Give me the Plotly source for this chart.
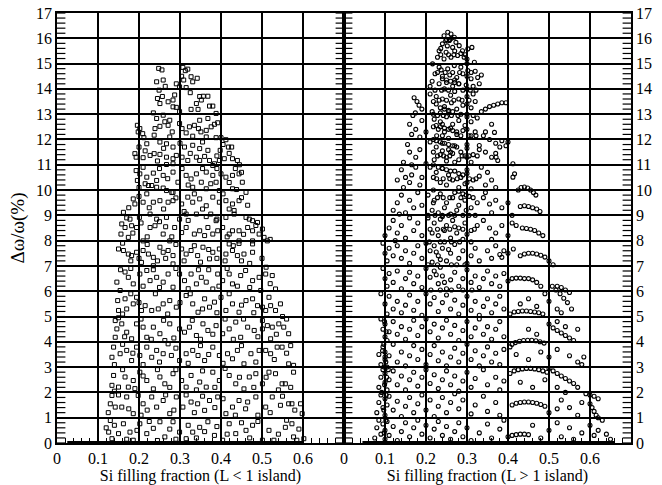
import plotly.graph_objects as go

# ---------------- Left panel (L < 1 island) : points by band of y ----------------
L_top = [(0.248,14.81),(0.256,14.75),(0.307,14.85),(0.313,14.72),(0.319,14.78),(0.304,14.5),(0.309,14.35),
         (0.327,14.48),(0.331,14.28),(0.342,14.42),(0.243,14.28),(0.259,14.35),(0.264,14.1),(0.249,13.95),
         (0.291,14.2),(0.299,14.08),(0.315,14.05),(0.325,13.85)]
L_13 = [(0.245,13.62),(0.257,13.7),(0.251,13.42),(0.271,13.49),(0.283,13.56),(0.287,13.76),(0.283,13.29),
        (0.291,13.27),(0.299,13.1),(0.348,13.7),(0.357,13.71),(0.368,13.71),(0.352,13.56),(0.34,13.42),
        (0.327,13.19),(0.344,13.19),(0.372,13.32),(0.38,13.32),(0.388,13.03),(0.235,13.05),(0.243,12.83),
        (0.259,12.96),(0.275,12.76),(0.263,12.7)]
L_12 = [(0.196,12.56),(0.198,12.3),(0.202,12.43),(0.209,12.23),(0.212,12.07),(0.239,12.43),(0.251,12.52),
        (0.237,12.17),(0.271,12.56),(0.281,12.3),(0.275,12.1),(0.299,12.63),(0.305,12.43),(0.315,12.26),
        (0.323,12.5),(0.335,12.56),(0.345,12.43),(0.351,12.3),(0.364,12.36),(0.376,12.5),(0.384,12.6),
        (0.392,12.66),(0.348,12.76),(0.368,12.83),(0.331,12.13),(0.364,12.1),(0.388,12.07),(0.4,12.07),
        (0.412,11.99),(0.219,11.83),(0.251,11.9),(0.267,11.83),(0.283,11.7),(0.311,11.7),(0.331,11.77),
        (0.348,11.64),(0.368,11.57),(0.398,11.57),(0.418,11.7),(0.426,11.7)]
L_11 = [(0.19,11.44),(0.193,11.3),(0.21,11.28),(0.227,11.37),(0.237,11.44),(0.251,11.41),(0.267,11.3),
        (0.283,11.24),(0.291,11.37),(0.305,11.3),(0.319,11.17),(0.34,11.3),(0.348,11.17),(0.36,11.33),
        (0.372,11.17),(0.384,11.04),(0.396,11.17),(0.408,11.24),(0.428,11.24),(0.44,11.17),(0.38,10.97),
        (0.267,11.01),(0.283,11.04),(0.2,11.7),(0.215,11.55),(0.245,11.15),(0.26,11.65),(0.3,11.85),
        (0.325,11.45),(0.355,11.9),(0.39,11.35),(0.405,11.8),(0.42,11.45),(0.445,11.0)]
L_10 = [(0.193,10.77),(0.196,10.38),(0.202,10.64),(0.219,10.51),(0.215,10.25),(0.235,10.67),(0.243,10.38),
        (0.259,10.58),(0.283,10.71),(0.295,10.31),(0.315,10.58),(0.327,10.44),(0.34,10.64),(0.352,10.31),
        (0.364,10.71),(0.38,10.58),(0.388,10.31),(0.4,10.64),(0.412,10.51),(0.428,10.58),(0.444,10.64),
        (0.452,10.31),(0.223,10.18),(0.231,10.18),(0.243,10.11),(0.259,10.08),(0.267,9.98),(0.283,9.91),
        (0.331,10.11),(0.364,10.05),(0.396,9.98),(0.428,10.05),(0.438,10.02),(0.461,9.91),(0.2,10.1),
        (0.21,10.9),(0.25,10.85),(0.27,10.45),(0.305,10.85),(0.32,10.2),(0.355,10.85),(0.375,10.25),
        (0.39,10.85),(0.42,10.3),(0.435,10.85),(0.45,10.7)]
L_9 = [(0.186,9.65),(0.19,9.45),(0.21,9.52),(0.219,9.85),(0.235,9.52),(0.251,9.58),(0.271,9.52),(0.283,9.58),
       (0.29,9.69),(0.304,9.45),(0.319,9.72),(0.331,9.52),(0.348,9.65),(0.364,9.38),(0.38,9.72),(0.396,9.52),
       (0.412,9.58),(0.428,9.45),(0.444,9.58),(0.432,9.19),(0.162,9.12),(0.178,8.85),(0.201,8.92),(0.227,9.05),
       (0.243,8.85),(0.267,8.92),(0.299,8.85),(0.315,9.05),(0.34,9.05),(0.364,8.95),(0.388,8.79),(0.412,8.92),
       (0.432,9.05),(0.461,8.92),(0.469,8.85),(0.477,8.79),(0.489,8.72),(0.175,9.3),(0.2,9.75),(0.225,9.3),
       (0.26,9.25),(0.28,9.9),(0.31,9.15),(0.335,9.85),(0.355,9.25),(0.375,9.05),(0.405,9.85),(0.42,9.25),
       (0.45,9.7),(0.465,9.4)]
L_8 = [(0.158,8.66),(0.166,8.52),(0.182,8.59),(0.194,8.52),(0.156,8.26),(0.174,8.13),(0.21,7.99),(0.227,8.52),
       (0.239,8.59),(0.259,8.26),(0.275,7.99),(0.287,8.52),(0.304,8.32),(0.315,8.52),(0.335,8.26),(0.348,8.39),
       (0.368,8.52),(0.38,8.26),(0.392,8.39),(0.404,8.52),(0.42,8.26),(0.428,8.39),(0.444,8.39),(0.465,8.52),
       (0.477,8.39),(0.493,8.26),(0.505,8.13),(0.501,8.46),(0.513,7.99),(0.444,7.99),(0.477,7.99),
       (0.17,8.9),(0.185,8.3),(0.205,8.7),(0.22,8.15),(0.25,8.75),(0.265,8.55),(0.28,8.15),(0.32,8.8),
       (0.36,8.2),(0.39,8.85),(0.415,8.15),(0.455,8.25),(0.485,8.6),(0.52,8.05)]
L_7 = [(0.15,7.67),(0.162,7.61),(0.174,7.47),(0.182,7.41),(0.194,7.54),(0.21,7.61),(0.223,7.47),(0.235,7.34),
       (0.251,7.74),(0.259,7.54),(0.271,7.61),(0.283,7.41),(0.304,7.67),(0.315,7.47),(0.327,7.61),(0.343,7.41),
       (0.356,7.74),(0.372,7.28),(0.38,7.54),(0.396,7.67),(0.412,7.47),(0.428,7.61),(0.44,7.41),(0.456,7.47),
       (0.477,7.54),(0.477,7.87),(0.444,7.89),(0.42,7.87),(0.206,7.14),(0.235,7.01),(0.283,7.08),
       (0.16,7.9),(0.18,7.2),(0.2,7.3),(0.22,7.85),(0.245,7.2),(0.265,7.3),(0.29,7.85),(0.31,7.2),(0.335,7.8),
       (0.35,7.15),(0.37,7.65),(0.39,7.3),(0.41,7.2),(0.43,7.8),(0.45,7.2),(0.47,7.1),(0.5,7.3),(0.51,6.95)]
L_6 = [(0.146,6.36),(0.154,6.03),(0.166,6.76),(0.174,6.55),(0.186,6.29),(0.202,6.68),(0.219,6.82),(0.227,6.42),
       (0.243,6.55),(0.259,6.36),(0.271,6.68),(0.283,6.16),(0.299,6.68),(0.311,6.42),(0.327,6.68),(0.34,6.29),
       (0.352,6.55),(0.364,6.36),(0.38,6.09),(0.392,6.68),(0.404,6.42),(0.42,6.68),(0.428,6.29),(0.448,6.62),
       (0.46,6.82),(0.477,6.42),(0.493,6.55),(0.509,6.68),(0.525,6.62),(0.533,6.09),(0.497,6.03),
       (0.155,6.85),(0.18,6.9),(0.21,6.2),(0.235,6.85),(0.25,6.15),(0.29,6.9),(0.32,6.1),(0.345,6.85),
       (0.37,6.85),(0.395,6.2),(0.415,6.9),(0.44,6.2),(0.47,6.15),(0.52,6.3)]
L_5 = [(0.148,5.63),(0.15,5.24),(0.166,5.7),(0.17,5.3),(0.186,5.5),(0.194,5.76),(0.206,5.24),(0.215,5.43),
       (0.231,5.24),(0.247,5.3),(0.259,5.5),(0.275,5.63),(0.291,5.37),(0.315,5.83),(0.331,5.5),(0.344,5.17),
       (0.36,5.7),(0.372,5.37),(0.384,5.57),(0.4,5.76),(0.412,5.24),(0.428,5.5),(0.444,5.17),(0.461,5.63),
       (0.477,5.7),(0.489,5.43),(0.501,5.37),(0.509,5.24),(0.521,5.43),(0.533,5.24),(0.517,5.76),
       (0.16,5.1),(0.18,5.9),(0.2,5.55),(0.24,5.9),(0.27,5.1),(0.3,5.55),(0.325,5.9),(0.355,5.3),(0.39,5.15),
       (0.42,5.9),(0.45,5.45),(0.48,5.15),(0.545,5.5),(0.55,5.0)]
L_4 = [(0.142,4.84),(0.146,4.51),(0.142,4.18),(0.158,4.71),(0.17,4.38),(0.182,4.12),(0.194,4.71),(0.21,4.58),
       (0.219,4.18),(0.235,4.58),(0.251,4.32),(0.263,4.05),(0.275,4.71),(0.299,4.51),(0.311,4.38),(0.323,4.58),
       (0.34,4.25),(0.356,4.71),(0.368,4.45),(0.388,4.64),(0.404,4.32),(0.42,4.51),(0.436,4.78),(0.448,4.18),
       (0.465,4.58),(0.481,4.45),(0.501,4.51),(0.513,4.64),(0.525,4.58),(0.541,4.71),(0.553,4.58),(0.565,4.32),
       (0.521,4.12),(0.501,4.84),(0.15,4.95),(0.165,4.2),(0.205,4.9),(0.23,4.1),(0.26,4.85),(0.285,4.15),
       (0.33,4.85),(0.35,4.1),(0.38,4.3),(0.41,4.9),(0.43,4.1),(0.455,4.9),(0.49,4.2),(0.535,4.3),(0.56,4.9)]
L_3 = [(0.138,3.79),(0.134,3.39),(0.154,3.53),(0.17,3.66),(0.182,3.26),(0.194,3.79),(0.202,3.46),(0.219,3.79),
       (0.231,3.39),(0.243,3.66),(0.259,3.53),(0.271,3.92),(0.279,3.46),(0.299,3.26),(0.315,3.53),(0.331,3.66),
       (0.344,3.46),(0.36,3.26),(0.38,3.79),(0.396,3.46),(0.416,3.53),(0.428,3.33),(0.44,3.66),(0.456,3.13),
       (0.473,3.53),(0.493,3.66),(0.509,3.66),(0.521,3.53),(0.537,3.79),(0.549,3.79),(0.565,3.13),(0.577,3.07),
       (0.14,3.1),(0.16,3.9),(0.185,3.55),(0.21,3.1),(0.25,3.2),(0.29,3.75),(0.32,3.15),(0.35,3.85),(0.37,3.5),
       (0.405,3.15),(0.45,3.85),(0.485,3.2),(0.53,3.3),(0.56,3.55),(0.57,3.85)]
L_2 = [(0.138,2.67),(0.134,2.28),(0.15,2.21),(0.166,2.61),(0.174,2.21),(0.186,2.47),(0.202,2.8),(0.219,2.47),
       (0.235,2.14),(0.251,2.61),(0.263,2.34),(0.283,2.74),(0.304,2.47),(0.315,2.21),(0.327,2.67),(0.348,2.41),
       (0.364,2.21),(0.38,2.8),(0.396,2.47),(0.42,2.67),(0.436,2.34),(0.456,2.14),(0.469,2.61),(0.485,2.74),
       (0.501,2.34),(0.517,2.8),(0.533,2.74),(0.549,2.34),(0.557,2.34),(0.577,2.8),
       (0.14,2.05),(0.16,2.9),(0.19,2.15),(0.21,2.65),(0.245,2.9),(0.275,2.2),(0.29,2.9),(0.34,2.1),
       (0.355,2.85),(0.385,2.2),(0.41,2.95),(0.445,2.6),(0.48,2.2),(0.51,2.6),(0.54,2.1),(0.57,2.2)]
L_1 = [(0.134,1.88),(0.13,1.55),(0.142,1.42),(0.158,1.42),(0.17,1.82),(0.186,1.16),(0.198,1.88),(0.21,1.55),
       (0.231,1.82),(0.243,1.42),(0.259,1.68),(0.275,1.16),(0.291,1.82),(0.307,1.42),(0.327,1.62),(0.343,1.55),
       (0.36,1.29),(0.372,1.68),(0.392,1.82),(0.412,1.16),(0.428,1.42),(0.444,1.68),(0.465,1.62),(0.485,1.82),
       (0.509,1.42),(0.525,1.82),(0.545,1.49),(0.565,1.55),(0.573,1.55),(0.594,1.55),(0.598,1.16),
       (0.125,1.2),(0.15,1.9),(0.175,1.35),(0.205,1.1),(0.22,1.3),(0.265,1.9),(0.285,1.3),(0.315,1.9),
       (0.335,1.2),(0.355,1.85),(0.385,1.4),(0.405,1.75),(0.435,1.1),(0.46,1.35),(0.49,1.1),(0.52,1.2),
       (0.55,1.85),(0.58,1.3)]
L_0 = [(0.13,0.89),(0.126,0.43),(0.134,0.17),(0.15,0.37),(0.162,0.76),(0.178,0.43),(0.186,0.11),(0.202,0.76),
       (0.219,0.37),(0.235,0.58),(0.251,0.84),(0.263,0.24),(0.283,0.84),(0.299,0.43),(0.315,0.17),(0.331,0.43),
       (0.348,0.62),(0.368,0.84),(0.384,0.3),(0.404,0.11),(0.42,0.76),(0.436,0.37),(0.461,0.5),(0.477,0.7),
       (0.501,0.11),(0.517,0.5),(0.529,0.11),(0.557,0.62),(0.573,0.76),(0.577,0.24),(0.585,0.11),(0.602,0.17),
       (0.12,0.6),(0.14,0.7),(0.17,0.15),(0.195,0.5),(0.225,0.85),(0.245,0.1),(0.275,0.55),(0.29,0.15),
       (0.32,0.7),(0.34,0.2),(0.36,0.45),(0.39,0.65),(0.415,0.35),(0.45,0.8),(0.47,0.2),(0.49,0.85),
       (0.54,0.35),(0.56,0.9),(0.59,0.55)]
L_zero_x = [0.025, 0.6]   # ends of the dense run of zero-gap points

# ---------------- Right panel (L > 1 island) ----------------
R_15 = [(0.253,16.24),(0.261,16.17),(0.269,16.04),(0.244,16.1),(0.257,15.91),(0.273,15.84),(0.24,15.78),
        (0.265,15.64),(0.281,15.71),(0.232,15.51),(0.249,15.45),(0.289,15.51),(0.302,15.58),(0.312,15.64),
        (0.228,15.25),(0.244,15.18),(0.261,15.25),(0.277,15.32),(0.293,15.25),(0.3,15.18),(0.318,15.05),
        (0.236,15.6),(0.252,15.7),(0.27,15.5),(0.285,15.4),(0.262,16.0),(0.248,15.9),
        (0.25,15.95),(0.258,15.95),(0.236,15.35),(0.255,15.35),(0.268,15.35),(0.296,15.35)]
R_14 = [(0.216,14.99),(0.232,14.86),(0.253,14.79),(0.269,14.92),(0.285,14.86),(0.302,14.72),(0.32,14.7),
        (0.326,14.45),(0.222,14.6),(0.24,14.5),(0.258,14.55),(0.275,14.45),(0.29,14.6),(0.31,14.4),(0.215,14.3),
        (0.232,14.2),(0.25,14.25),(0.265,14.1),(0.28,14.2),(0.298,14.15),(0.315,14.1),(0.33,14.2),(0.245,14.0),
        (0.27,14.35),(0.237,14.75),(0.21,14.1),(0.335,14.55),(0.24,14.4),(0.25,14.35),(0.26,14.3),(0.27,14.25),
        (0.28,14.2),(0.3,14.0),(0.3,14.5),(0.3,15.0),(0.228,14.65),(0.247,14.65),(0.265,14.65),(0.282,14.65),
        (0.31,14.65),(0.222,13.95),(0.238,13.95),(0.255,13.95),(0.29,13.95),(0.308,13.95),(0.322,13.95)]
R_13 = [(0.171,13.65),(0.178,13.5),(0.183,13.35),(0.19,13.2),(0.174,13.05),(0.168,12.95),(0.21,13.8),(0.225,13.7),
        (0.24,13.6),(0.26,13.75),(0.28,13.6),(0.3,13.7),(0.315,13.8),(0.225,13.4),(0.245,13.3),(0.262,13.45),
        (0.275,13.2),(0.29,13.35),(0.31,13.25),(0.32,13.5),(0.215,13.1),(0.235,13.05),(0.255,13.1),(0.3,13.0),
        (0.27,13.9),(0.335,13.1),(0.345,13.2),(0.355,13.3),(0.365,13.35),(0.375,13.4),(0.385,13.45),(0.395,13.45),
        (0.235,13.25),(0.245,13.2),(0.255,13.15),(0.265,13.1),(0.285,13.0),(0.3,13.4),(0.218,13.5),(0.218,13.0),
        (0.232,13.55),(0.25,13.55),(0.268,13.55),(0.288,13.55),(0.305,13.55),(0.228,12.95),(0.242,12.95),
        (0.262,12.95),(0.278,12.95),(0.315,12.95)]
R_12 = [(0.22,12.8),(0.235,12.7),(0.25,12.9),(0.265,12.6),(0.28,12.75),(0.295,12.55),(0.31,12.7),(0.325,12.85),
        (0.23,12.4),(0.245,12.3),(0.26,12.45),(0.275,12.2),(0.29,12.35),(0.305,12.15),(0.32,12.3),(0.255,12.05),
        (0.24,12.6),(0.3,12.9),(0.16,12.6),(0.175,12.4),(0.165,12.2),(0.185,12.1),(0.2,12.3),(0.19,12.75),
        (0.34,12.15),(0.355,12.0),(0.37,11.85),(0.385,11.95),(0.395,11.75),(0.4,11.9),(0.345,12.3),(0.36,12.6),
        (0.33,11.76),(0.367,12.28),(0.225,12.55),(0.235,12.5),(0.245,12.45),(0.255,12.4),(0.265,12.35),
        (0.275,12.3),(0.3,12.4),(0.218,12.0),(0.218,12.5),(0.226,12.15),(0.24,12.15),(0.285,12.15),
        (0.31,12.15),(0.322,12.15)]
R_11 = [(0.21,11.9),(0.225,11.7),(0.24,11.85),(0.255,11.6),(0.27,11.75),(0.285,11.5),(0.3,11.65),(0.315,11.4),
        (0.33,11.6),(0.235,11.4),(0.25,11.3),(0.265,11.45),(0.28,11.2),(0.295,11.35),(0.31,11.1),(0.22,11.2),
        (0.345,11.5),(0.36,11.3),(0.37,11.45),(0.38,11.7),(0.155,11.8),(0.16,11.5),(0.175,11.3),(0.185,11.6),
        (0.145,11.1),(0.2,11.05),(0.165,11.0),(0.371,11.3),(0.375,11.17),(0.412,11.04),(0.416,10.64),(0.412,10.51),
        (0.225,11.95),(0.235,11.9),(0.245,11.85),(0.255,11.8),(0.265,11.75),(0.275,11.7),(0.3,11.3),(0.3,11.8),
        (0.218,11.0),(0.218,11.5),(0.24,11.55),(0.26,11.5),(0.25,11.15),(0.27,11.1),(0.228,11.35),(0.243,11.35),
        (0.258,11.35),(0.288,11.35),(0.305,11.35),(0.325,11.35)]
R_10 = [(0.21,10.9),(0.225,10.7),(0.24,10.85),(0.255,10.6),(0.27,10.75),(0.285,10.5),(0.3,10.65),(0.315,10.4),
        (0.33,10.55),(0.235,10.3),(0.25,10.2),(0.265,10.4),(0.28,10.1),(0.295,10.25),(0.31,10.05),(0.345,10.2),
        (0.36,10.4),(0.35,10.7),(0.37,10.1),(0.335,10.9),(0.14,10.8),(0.15,10.5),(0.165,10.6),(0.16,10.3),
        (0.175,10.9),(0.185,10.2),(0.145,10.1),(0.19,10.5),(0.13,10.4),(0.425,10.0),(0.432,10.1),(0.44,10.12),
        (0.448,10.08),(0.455,10.0),(0.462,9.9),(0.468,9.8),(0.23,10.9),(0.24,10.85),(0.25,10.8),(0.26,10.75),
        (0.28,10.65),(0.29,10.6),(0.3,10.3),(0.3,10.8),(0.218,10.0),(0.218,10.5),(0.226,10.45),(0.242,10.45),
        (0.258,10.45),(0.276,10.45),(0.306,10.45),(0.322,10.45)]
R_9 = [(0.12,9.2),(0.13,9.5),(0.14,9.8),(0.15,9.1),(0.16,9.6),(0.17,9.3),(0.18,9.9),(0.19,9.4),(0.135,9.05),
       (0.205,9.8),(0.22,9.6),(0.235,9.85),(0.25,9.5),(0.265,9.7),(0.28,9.4),(0.295,9.6),(0.31,9.3),(0.325,9.5),
       (0.215,9.2),(0.23,9.1),(0.245,9.3),(0.26,9.05),(0.275,9.2),(0.29,9.0),(0.305,9.75),(0.34,9.7),(0.355,9.45),
       (0.37,9.6),(0.385,9.3),(0.36,9.1),(0.345,9.9),(0.43,9.35),(0.44,9.38),(0.45,9.35),(0.46,9.3),(0.47,9.25),
       (0.478,9.15),(0.41,9.0),(0.4,9.5),(0.27,9.9),(0.28,9.95),(0.29,9.85),(0.298,9.2),(0.298,9.8),(0.218,9.5),
       (0.228,9.7),(0.242,9.7),(0.258,9.7),(0.285,9.7),(0.315,9.7),(0.205,9.0),(0.222,9.0),(0.24,9.0),
       (0.255,9.0),(0.27,9.0),(0.305,9.0),(0.32,9.0)]
R_8 = [(0.1,8.2),(0.11,8.5),(0.12,8.8),(0.13,8.3),(0.14,8.6),(0.15,8.1),(0.16,8.9),(0.17,8.4),(0.18,8.7),
       (0.19,8.2),(0.125,8.0),(0.205,8.9),(0.22,8.7),(0.235,8.85),(0.25,8.6),(0.265,8.8),(0.28,8.5),(0.295,8.7),
       (0.31,8.4),(0.325,8.6),(0.215,8.3),(0.23,8.2),(0.245,8.4),(0.26,8.1),(0.275,8.3),(0.29,8.05),(0.34,8.8),
       (0.355,8.5),(0.37,8.3),(0.385,8.6),(0.4,8.2),(0.36,8.05),(0.435,8.5),(0.445,8.48),(0.455,8.45),
       (0.465,8.4),(0.475,8.3),(0.485,8.2),(0.41,8.7),(0.42,8.6),(0.24,8.95),(0.27,8.55),(0.3,8.25),
       (0.21,8.45),(0.228,8.45),(0.242,8.45),(0.258,8.45),(0.29,8.45),(0.318,8.45)]
R_7 = [(0.095,7.9),(0.1,7.5),(0.11,7.7),(0.105,7.2),(0.12,7.4),(0.13,7.8),(0.14,7.3),(0.15,7.6),(0.16,7.1),
       (0.17,7.5),(0.18,7.8),(0.19,7.3),(0.2,7.9),(0.21,7.6),(0.22,7.8),(0.23,7.4),(0.24,7.7),(0.25,7.2),
       (0.26,7.5),(0.27,7.85),(0.28,7.3),(0.29,7.6),(0.3,7.1),(0.31,7.4),(0.32,7.7),(0.33,7.2),(0.215,7.15),
       (0.245,7.95),(0.35,7.6),(0.36,7.3),(0.37,7.8),(0.38,7.45),(0.39,7.6),(0.43,7.4),(0.44,7.47),(0.45,7.5),
       (0.46,7.5),(0.47,7.47),(0.48,7.42),(0.49,7.35),(0.5,7.2),(0.51,7.05),(0.385,7.34),(0.4,7.5),(0.413,7.67),
       (0.225,7.55),(0.235,7.25),(0.255,7.65),(0.208,7.95),(0.235,7.95),(0.262,7.95),(0.282,7.95),(0.31,7.95),
       (0.205,7.05),(0.228,7.05),(0.262,7.05),(0.275,7.05),(0.295,7.05)]
R_6 = [(0.095,6.9),(0.1,6.5),(0.105,6.2),(0.11,6.7),(0.12,6.35),(0.13,6.8),(0.14,6.1),(0.15,6.5),(0.16,6.75),
       (0.17,6.3),(0.18,6.6),(0.19,6.15),(0.2,6.9),(0.21,6.55),(0.22,6.8),(0.23,6.3),(0.24,6.6),(0.25,6.1),
       (0.26,6.45),(0.27,6.75),(0.28,6.2),(0.29,6.5),(0.3,6.85),(0.31,6.35),(0.32,6.6),(0.33,6.15),(0.34,6.5),
       (0.35,6.8),(0.36,6.3),(0.37,6.6),(0.38,6.2),(0.39,6.7),(0.4,6.4),(0.41,6.5),(0.42,6.52),(0.43,6.52),
       (0.44,6.5),(0.45,6.5),(0.46,6.45),(0.47,6.35),(0.48,6.2),(0.508,6.2),(0.517,6.05),(0.527,5.9),
       (0.536,5.72),(0.545,5.55),(0.555,5.3),(0.52,6.2),(0.53,6.15),(0.54,6.05),(0.55,5.95),
       (0.225,6.65),(0.235,6.95),(0.245,6.35),(0.212,6.05),(0.235,6.05),(0.262,6.05),(0.29,6.05),(0.312,6.05)]
R_5 = [(0.09,5.9),(0.1,5.5),(0.105,5.1),(0.11,5.8),(0.12,5.3),(0.13,5.6),(0.14,5.15),(0.15,5.45),(0.16,5.85),
       (0.17,5.25),(0.18,5.6),(0.19,5.05),(0.2,5.9),(0.21,5.5),(0.22,5.75),(0.23,5.2),(0.24,5.55),(0.25,5.85),
       (0.26,5.3),(0.27,5.65),(0.28,5.1),(0.29,5.45),(0.3,5.8),(0.31,5.25),(0.32,5.6),(0.33,5.05),(0.34,5.4),
       (0.35,5.7),(0.36,5.15),(0.37,5.5),(0.38,5.8),(0.39,5.3),(0.405,5.1),(0.415,5.18),(0.425,5.2),(0.435,5.22),
       (0.445,5.22),(0.455,5.2),(0.465,5.18),(0.475,5.15),(0.485,5.1),(0.43,5.5),(0.45,5.7),(0.47,5.4),
       (0.49,5.9),(0.5,5.6),(0.52,5.3),(0.53,5.15)]
R_4 = [(0.09,4.9),(0.095,4.5),(0.1,4.2),(0.1,4.7),(0.105,4.05),(0.11,4.4),(0.12,4.8),(0.13,4.3),(0.14,4.6),
       (0.15,4.1),(0.16,4.5),(0.17,4.85),(0.18,4.25),(0.19,4.6),(0.2,4.9),(0.21,4.4),(0.22,4.7),(0.23,4.15),
       (0.24,4.55),(0.25,4.85),(0.26,4.3),(0.27,4.65),(0.28,4.05),(0.29,4.45),(0.3,4.8),(0.31,4.2),(0.32,4.55),
       (0.33,4.9),(0.34,4.3),(0.35,4.6),(0.36,4.1),(0.37,4.5),(0.38,4.8),(0.39,4.2),(0.405,3.8),(0.41,3.9),
       (0.418,3.97),(0.428,4.02),(0.438,4.05),(0.448,4.06),(0.458,4.06),(0.468,4.04),(0.478,4.0),(0.488,3.95),
       (0.5,4.7),(0.51,4.55),(0.52,4.45),(0.53,4.35),(0.54,4.25),(0.55,4.15),(0.56,4.05),(0.52,4.8),
       (0.54,4.6),(0.57,4.5),(0.45,4.5),(0.47,4.3),(0.103,4.4),(0.099,4.8)]
R_3 = [(0.085,3.5),(0.09,3.1),(0.095,3.8),(0.1,3.3),(0.1,3.6),(0.105,3.0),(0.11,3.45),(0.12,3.9),(0.13,3.2),
       (0.14,3.6),(0.15,3.05),(0.16,3.45),(0.17,3.85),(0.18,3.3),(0.19,3.7),(0.2,3.1),(0.21,3.5),(0.22,3.85),
       (0.23,3.25),(0.24,3.6),(0.25,3.05),(0.26,3.4),(0.27,3.75),(0.28,3.2),(0.29,3.55),(0.3,3.9),(0.31,3.3),
       (0.32,3.65),(0.33,3.05),(0.34,3.45),(0.35,3.8),(0.36,3.2),(0.37,3.55),(0.38,3.1),(0.39,3.7),(0.42,3.5),
       (0.45,3.3),(0.48,3.6),(0.5,3.4),(0.52,3.7),(0.55,3.45),(0.57,3.2),(0.585,3.4),(0.58,3.1),
       (0.5,2.95),(0.51,2.85),(0.52,2.75),(0.53,2.65),(0.54,2.55),(0.55,2.45),(0.56,2.35),(0.57,2.2),
       (0.405,2.75),(0.415,2.85),(0.425,2.9),(0.435,2.93),(0.445,2.95),(0.455,2.95),(0.465,2.93),(0.475,2.9),
       (0.485,2.85),(0.495,2.8),(0.098,3.0),(0.102,3.2),(0.1,3.4),(0.097,3.9),(0.094,3.65),(0.108,2.9)]
R_2 = [(0.085,2.2),(0.09,2.6),(0.095,2.9),(0.1,2.4),(0.1,2.75),(0.105,2.1),(0.11,2.5),(0.12,2.85),(0.13,2.3),
       (0.14,2.65),(0.15,2.1),(0.16,2.5),(0.17,2.8),(0.18,2.25),(0.19,2.6),(0.2,2.9),(0.21,2.35),(0.22,2.7),
       (0.23,2.15),(0.24,2.5),(0.25,2.85),(0.26,2.3),(0.27,2.65),(0.28,2.05),(0.29,2.45),(0.3,2.8),(0.31,2.2),
       (0.32,2.55),(0.34,2.9),(0.35,2.3),(0.37,2.6),(0.38,2.1),(0.39,2.45),(0.43,2.4),(0.46,2.2),(0.49,2.5),
       (0.52,2.2),(0.54,2.0),(0.59,1.95),(0.6,1.9),(0.61,1.85),(0.62,1.75),(0.099,2.3),(0.104,2.6),(0.092,2.0)]
R_1 = [(0.08,1.2),(0.085,1.6),(0.09,1.9),(0.095,1.4),(0.1,1.75),(0.1,1.1),(0.105,1.5),(0.11,1.85),(0.12,1.3),
       (0.13,1.65),(0.14,1.05),(0.15,1.45),(0.16,1.8),(0.17,1.2),(0.18,1.55),(0.19,1.9),(0.2,1.3),(0.21,1.7),
       (0.22,1.05),(0.23,1.45),(0.24,1.8),(0.25,1.2),(0.26,1.6),(0.27,1.95),(0.28,1.35),(0.29,1.7),(0.31,1.15),
       (0.32,1.5),(0.34,1.85),(0.35,1.25),(0.37,1.6),(0.38,1.1),(0.41,1.5),(0.42,1.57),(0.43,1.6),(0.44,1.62),
       (0.45,1.62),(0.46,1.6),(0.47,1.57),(0.48,1.52),(0.49,1.45),(0.5,1.2),(0.52,1.35),(0.53,1.7),(0.55,1.4),
       (0.57,1.1),(0.58,1.6),(0.6,1.55),(0.605,1.4),(0.61,1.25),(0.615,1.1),(0.62,1.0),(0.097,1.3),(0.103,1.9)]
R_0 = [(0.075,0.2),(0.08,0.6),(0.085,0.9),(0.09,0.35),(0.095,0.75),(0.1,0.15),(0.1,0.5),(0.105,0.85),(0.11,0.3),
       (0.12,0.65),(0.13,0.1),(0.14,0.45),(0.15,0.8),(0.16,0.25),(0.17,0.6),(0.18,0.9),(0.19,0.35),(0.2,0.7),
       (0.21,0.2),(0.22,0.55),(0.23,0.85),(0.24,0.3),(0.25,0.65),(0.26,0.15),(0.27,0.45),(0.28,0.8),(0.29,0.25),
       (0.3,0.6),(0.31,0.1),(0.33,0.4),(0.35,0.75),(0.36,0.2),(0.38,0.55),(0.39,0.9),(0.4,0.25),(0.41,0.3),
       (0.42,0.33),(0.43,0.35),(0.44,0.35),(0.45,0.33),(0.46,0.7),(0.48,0.2),(0.5,0.5),(0.52,0.8),(0.53,0.25),
       (0.55,0.6),(0.56,0.15),(0.58,0.4),(0.6,0.7),(0.61,0.3),(0.62,0.5),(0.63,0.9),(0.64,0.35),(0.65,0.15),
       (0.098,0.4),(0.102,0.9)]
R_zero_x = [0.045, 0.66]

x_ticks = [0, 0.1, 0.2, 0.3, 0.4, 0.5, 0.6]
x_labels = ["0", "0.1", "0.2", "0.3", "0.4", "0.5", "0.6"]
y_ticks = list(range(0, 18))
x_titles = ["Si filling fraction (L < 1 island)", "Si filling fraction (L > 1 island)"]
y_title = "Δω/ω(%)"

left_pts = L_top + L_13 + L_12 + L_11 + L_10 + L_9 + L_8 + L_7 + L_6 + L_5 + L_4 + L_3 + L_2 + L_1 + L_0
right_pts = R_15 + R_14 + R_13 + R_12 + R_11 + R_10 + R_9 + R_8 + R_7 + R_6 + R_5 + R_4 + R_3 + R_2 + R_1 + R_0

FONT = "Liberation Serif"
X_RANGE = [0, 0.7]
Y_RANGE = [0, 17]
# fine tick comb every 0.2 along the vertical frame edges (axis decoration, derived from the axis range)
comb_y = [k / 5 for k in range(int(Y_RANGE[0] * 5), int(Y_RANGE[1] * 5) + 1)]

fig = go.Figure()
fig.add_trace(go.Scatter(x=L_zero_x, y=[0, 0], mode="lines", line=dict(color="black", width=4),
                         xaxis="x", yaxis="y", showlegend=False, hoverinfo="skip"))
fig.add_trace(go.Scatter(x=R_zero_x, y=[0, 0], mode="lines", line=dict(color="black", width=4),
                         xaxis="x2", yaxis="y2", showlegend=False, hoverinfo="skip"))
fig.add_trace(go.Scatter(x=[p[0] for p in left_pts], y=[p[1] for p in left_pts], mode="markers",
                         marker=dict(symbol="square-open", size=4, color="black", line=dict(width=1, color="black")),
                         xaxis="x", yaxis="y", showlegend=False, cliponaxis=False, hoverinfo="x+y"))
fig.add_trace(go.Scatter(x=[p[0] for p in right_pts], y=[p[1] for p in right_pts], mode="markers",
                         marker=dict(symbol="circle-open", size=4, color="black", line=dict(width=1.1, color="black")),
                         xaxis="x2", yaxis="y2", showlegend=False, cliponaxis=False, hoverinfo="x+y"))

# tick combs: outer edges clipped to the plot (ticks point inward), shared middle edge crosses both panels
comb_marker = dict(symbol="line-ew", size=12, color="black", line=dict(width=1.2, color="black"))
for xa, ya, edge, clip in [("x", "y", X_RANGE[0], True), ("x", "y", X_RANGE[1], False),
                           ("x2", "y2", X_RANGE[1], True)]:
    fig.add_trace(go.Scatter(x=[edge] * len(comb_y), y=comb_y, mode="markers", marker=comb_marker,
                             xaxis=xa, yaxis=ya, showlegend=False, cliponaxis=clip, hoverinfo="skip"))

common_x = dict(range=X_RANGE, tickvals=x_ticks, ticktext=x_labels, showgrid=True, gridcolor="black",
                gridwidth=1.5, zeroline=False, showline=True, linecolor="black", linewidth=1.5, mirror=True,
                ticks="inside", ticklen=0, tickcolor="black", automargin=False,
                minor=dict(dtick=0.02, ticks="inside", ticklen=5, tickcolor="black", tickwidth=1, showgrid=False),
                tickfont=dict(family=FONT, size=16, color="black"),
                title_font=dict(family=FONT, size=16, color="black"), title_standoff=0)
common_y = dict(range=Y_RANGE, tickvals=y_ticks, showgrid=True, gridcolor="black", gridwidth=1.5,
                zeroline=False, showline=True, linecolor="black", linewidth=1.5, mirror=True,
                ticks="", automargin=False, tickfont=dict(family=FONT, size=16, color="black"))

fig.update_layout(
    width=662, height=485, paper_bgcolor="white", plot_bgcolor="white",
    margin=dict(l=57, r=31, t=13, b=42),
    font=dict(family=FONT, color="black"),
    xaxis=dict(domain=[0, 0.5], anchor="y", title=dict(text=x_titles[0]), **common_x),
    xaxis2=dict(domain=[0.5, 1], anchor="y2", title=dict(text=x_titles[1]), **common_x),
    yaxis=dict(domain=[0, 1], anchor="x", side="left",
               title=dict(text=y_title, font=dict(family=FONT, size=19, color="black"), standoff=6), **common_y),
    yaxis2=dict(domain=[0, 1], anchor="x2", side="right", **common_y),
)
# remove the page's default 8px body margin so the figure sits at the window's top-left corner
fig.write_html("out.html", post_script="document.body.style.margin='0';",
               config={"displayModeBar": False})
